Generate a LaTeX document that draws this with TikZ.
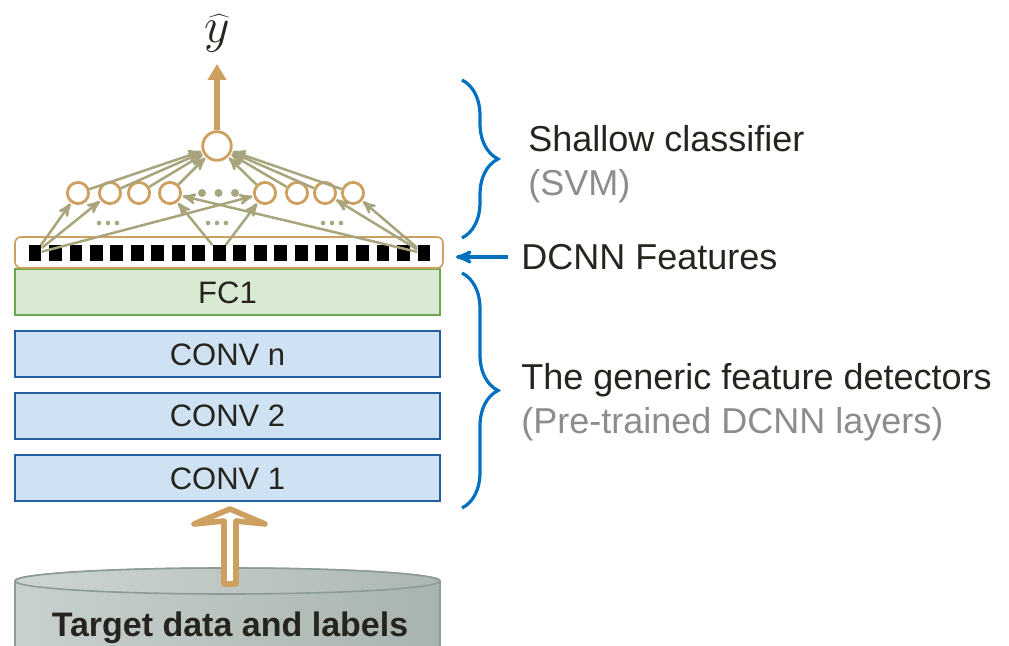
\documentclass[tikz,border=0pt]{standalone}
\usepackage{fontspec}
\setmainfont{Liberation Sans}
\usetikzlibrary{arrows,arrows.meta,decorations.pathreplacing}

\definecolor{txt}{RGB}{38,36,30}
\definecolor{subtxt}{RGB}{140,140,140}
\definecolor{tanc}{RGB}{205,160,95}
\definecolor{olive}{RGB}{168,164,124}
\definecolor{bracec}{RGB}{0,112,192}
\definecolor{fcfill}{RGB}{217,234,211}
\definecolor{fcdraw}{RGB}{106,168,79}
\definecolor{cvfill}{RGB}{207,226,243}
\definecolor{cvdraw}{RGB}{36,94,160}
\definecolor{diskL}{RGB}{200,209,205}
\definecolor{diskR}{RGB}{168,180,175}
\definecolor{diskE}{RGB}{140,156,149}

\begin{document}
\begin{tikzpicture}[x=0.5pt,y=-0.5pt,>=stealth',
    layer/.style={draw,line width=1pt,minimum width=212.5pt,minimum height=23pt,
      inner sep=0pt,text=txt,font=\fontsize{15.5}{18}\selectfont},
    neuron/.style={circle,draw=tanc,line width=1.4pt,fill=white,inner sep=0pt,
      minimum size=10.6pt},
    feat/.style={fill=black,inner sep=0pt,minimum width=6.4pt,minimum height=8pt},
    link/.style={->,olive,line width=1.25pt,shorten >=0.5pt},
    lbl/.style={anchor=base west,inner sep=0pt,text=txt,font=\fontsize{18}{21}\selectfont},
    sublbl/.style={lbl,text=subtxt},
    curly/.style={decorate,decoration={brace,amplitude=18pt},bracec,line width=1.6pt}]
  \useasboundingbox (0,0) rectangle (1009,646);

  % layers of the network
  \node[layer,draw=fcdraw,fill=fcfill] (fc1) at (227.5,292.5) {FC1};
  \node[layer,draw=cvdraw,fill=cvfill] (convn) at (227.5,354.5) {CONV n};
  \node[layer,draw=cvdraw,fill=cvfill] (conv2) at (227.5,416) {CONV 2};
  \node[layer,draw=cvdraw,fill=cvfill] (conv1) at (227.5,478.5) {CONV 1};

  % feature vector
  \node[draw=tanc,line width=0.8pt,rounded corners=3pt,minimum width=214pt,
    minimum height=15.5pt,inner sep=0pt] (fbar) at (229,252.5) {};
  \foreach \i in {1,...,20}
    \node[feat] (f\i) at ({35+(\i-1)*20.47},253.5) {};

  % classifier neurons
  \foreach \x [count=\i] in {78,110,139,170,265,297,325,353}
    \node[neuron] (h\i) at (\x,193) {};
  \node[neuron,minimum size=14.3pt] (out) at (217,146) {};
  \foreach \x in {202,218.5,235}
    \fill[olive] (\x,193) circle (4);
  \foreach \x in {108,217,332}
    \foreach \d in {-9,0,9}
      \fill[olive] (\x+\d,223) circle (2.3);

  \foreach \i in {1,...,8}
    \draw[link] (h\i) -- (out);
  \draw[link] (f1) -- (h1);
  \draw[link] (f1) -- (h2);
  \draw[link] (f1) -- (h5);
  \draw[link] (f10) -- (h4);
  \draw[link] (f10) -- (h5);
  \draw[link] (f20) -- (h4);
  \draw[link] (f20) -- (h7);
  \draw[link] (f20) -- (h8);

  % prediction
  \coordinate (ytip) at (217,64);
  \draw[-{Triangle[length=8pt,width=9pt]},tanc,line width=3pt] (out) -- (ytip);
  \node[font=\fontsize{26}{30}\selectfont,text=txt,inner sep=0pt] (yhat) at (217,33) {$\widehat{y}$};

  % braces and labels
  \draw[curly] (462,80) -- (462,238);
  \draw[curly] (462,273) -- (462,508);
  \coordinate (fstart) at (508,257);
  \draw[->,bracec,line width=1.6pt] (fstart) -- (456,257);
  \node[lbl] (shallow) at (528,152) {Shallow classifier};
  \node[sublbl] (svm) at (528,196) {(SVM)};
  \node[lbl] (dcnn) at (521,270) {DCNN Features};
  \node[lbl] (generic) at (521,390) {The generic feature detectors};
  \node[sublbl] (pretrained) at (521,434) {(Pre-trained DCNN layers)};

  % target data disk
  \begin{scope}
    \clip (0,0) rectangle (1009,646);
    \draw[diskE,line width=0.8pt,left color=diskL,right color=diskR]
      (15,581) -- (15,680) -- (440,680) -- (440,581)
      arc[start angle=0,end angle=-180,x radius=212.5,y radius=13];
    \draw[diskE,line width=0.8pt,left color=diskL!90!white,right color=diskR!95!white]
      (227.5,581) ellipse[x radius=212.5,y radius=13];
  \end{scope}
  \node[anchor=base,inner sep=0pt,text=txt,font=\bfseries\fontsize{17}{20}\selectfont]
    (target) at (230,637) {Target data and labels};

  % input arrow
  \draw[tanc,fill=white,line width=2.8pt,line join=round]
    (224,584) -- (224,521) -- (194,524) -- (230,509) -- (265,524)
    -- (236,521) -- (236,584) -- cycle;
\end{tikzpicture}
\end{document}
